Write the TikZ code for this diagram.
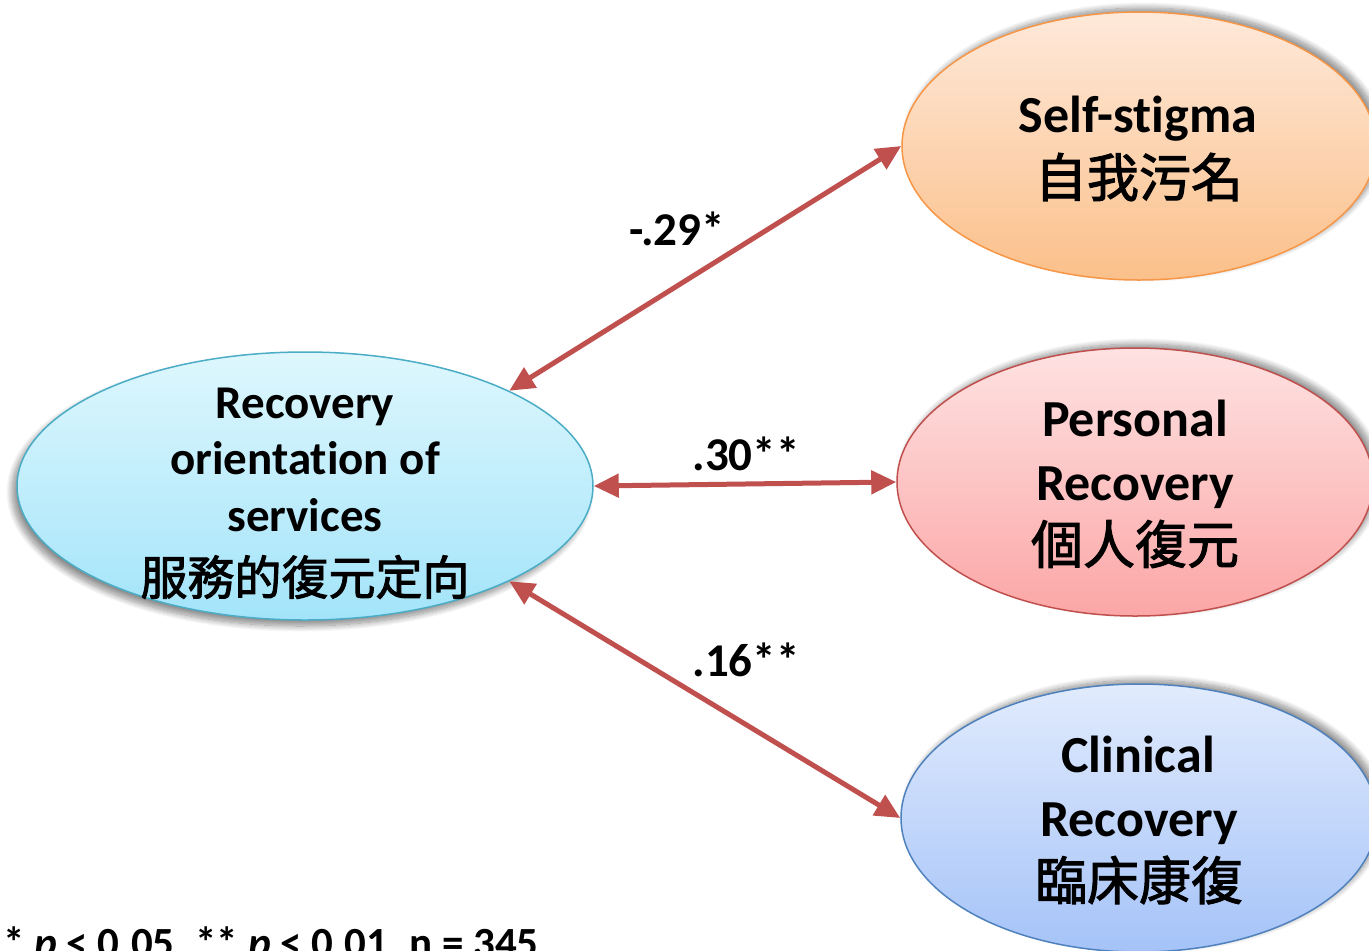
\documentclass[tikz,border=0pt]{standalone}
\usepackage{fontspec}
\setmainfont{Carlito}[Ligatures=NoCommon]
\newfontfamily\cjk{Noto Sans CJK TC}[FakeBold=2]
\usetikzlibrary{arrows.meta,shapes.geometric,shadows.blur}
\definecolor{arrowred}{HTML}{C0504D}
\definecolor{cyanTop}{HTML}{DEF7FD}
\definecolor{cyanBot}{HTML}{A3E4FA}
\definecolor{cyanLine}{HTML}{4BACC6}
\definecolor{orTop}{HTML}{FEE9DA}
\definecolor{orBot}{HTML}{FBC08A}
\definecolor{orLine}{HTML}{F79646}
\definecolor{pkTop}{HTML}{FEE2E2}
\definecolor{pkBot}{HTML}{FCA6A6}
\definecolor{pkLine}{HTML}{C0504D}
\definecolor{blTop}{HTML}{E1EBFD}
\definecolor{blBot}{HTML}{A5C3F8}
\definecolor{blLine}{HTML}{4F81BD}
\begin{document}
\begin{tikzpicture}[x=1pt,y=-1pt,
  ell/.style={ellipse, draw, line width=1.5pt, inner sep=0pt},
  rshadow/.style={blur shadow={shadow xshift=5pt, shadow yshift=4pt, shadow blur radius=6pt, shadow blur steps=12, shadow opacity=45}},
  lshadow/.style={blur shadow={shadow xshift=-5pt, shadow yshift=-6pt, shadow blur radius=6pt, shadow blur steps=12, shadow opacity=45}},
  txtS/.style={inner sep=0pt, font=\fontsize{47}{56}\selectfont\bfseries},
  txtL/.style={inner sep=0pt, font=\fontsize{52}{62}\selectfont\bfseries},
  txtN/.style={inner sep=0pt, font=\fontsize{43}{52}\selectfont\bfseries},
  cjkS/.style={inner sep=0pt, font=\fontsize{47}{56}\selectfont\cjk},
  cjkL/.style={inner sep=0pt, font=\fontsize{52}{62}\selectfont\cjk},
  arr/.style={{Triangle[length=25pt,width=23pt]}-{Triangle[length=25pt,width=23pt]}, line width=5pt, draw=arrowred}
]
\useasboundingbox (0,0) rectangle (1369,951);
\clip (0,0) rectangle (1369,951);

% ellipses
\node[ell, lshadow, draw=cyanLine, top color=cyanTop, bottom color=cyanBot,
      minimum width=576pt, minimum height=268pt] (rec) at (305,486) {};
\node[ell, rshadow, draw=orLine, top color=orTop, bottom color=orBot,
      minimum width=474pt, minimum height=268pt] (ss) at (1139,146) {};
\node[ell, rshadow, draw=pkLine, top color=pkTop, bottom color=pkBot,
      minimum width=476pt, minimum height=268pt] (pr) at (1135,482) {};
\node[ell, rshadow, draw=blLine, top color=blTop, bottom color=blBot,
      minimum width=476pt, minimum height=268pt] (cr) at (1139,818) {};

% texts left
\node[txtS, anchor=base] (rec1) at (305,418) {Recovery};
\node[txtS, anchor=base] (rec2) at (305,474) {orientation of};
\node[txtS, anchor=base] (rec3) at (305,531) {services};
\node[cjkS] (rec4) at (305,577) {服務的復元定向};

% texts right
\node[txtL, anchor=base] (ss1) at (1138,132) {Self-stigma};
\node[cjkL] (ss2) at (1139,177) {自我污名};
\node[txtL, anchor=base] (pr1) at (1135,436) {Personal};
\node[txtL, anchor=base] (pr2) at (1135,500) {Recovery};
\node[cjkL] (pr3) at (1135,544) {個人復元};
\node[txtL, anchor=base] (cr1) at (1138,772) {Clinical};
\node[txtL, anchor=base] (cr2) at (1139,836) {Recovery};
\node[cjkL] (cr3) at (1139,880) {臨床康復};

% connectors
\draw[arr] (rec.25.5) -- (ss.180.5);
\draw[arr] (rec.0) -- (pr.180);
\draw[arr] (rec.-25.3) -- (cr.180.3);

% coefficient labels
\node[txtS, anchor=base] (l1) at (677,245) {-.29*};
\node[txtS, anchor=base] (l2) at (746,470) {.30**};
\node[txtS, anchor=base] (l3) at (746,676) {.16**};

% footnote
\node[txtN, anchor=base west] (note) at (3,957) {* \textit{p} < 0.05, ** \textit{p} < 0.01, n = 345};
\end{tikzpicture}
\end{document}
